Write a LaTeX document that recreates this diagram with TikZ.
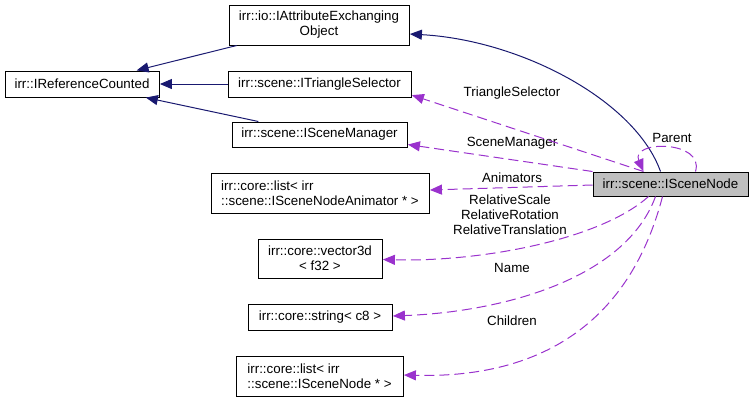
\documentclass[tikz,border=0pt]{standalone}
\usepackage{fontspec}
\setmainfont{Liberation Sans}
\usetikzlibrary{arrows.meta,calc}
\definecolor{inhcol}{HTML}{191970}
\definecolor{asscol}{HTML}{9A32CD}
\definecolor{hlfill}{HTML}{BFBFBF}
\begin{document}
\begin{tikzpicture}[x=0.75pt,y=-0.75pt,
  every node/.style={font=\fontsize{10}{11.25}\selectfont},
  box/.style={draw=black,line width=0.75pt,inner sep=0pt,align=center,fill=white},
  lbl/.style={inner sep=0pt,align=center},
  inh/.style={draw=inhcol,line width=0.75pt,-{Triangle[length=9pt,width=7.5pt]},shorten >=0.3pt},
  ass/.style={draw=asscol,line width=0.75pt,dash pattern=on 7.5pt off 3.75pt,-{Triangle[length=9pt,width=7.5pt]},shorten >=0.3pt}]
\useasboundingbox (0,0) rectangle (755,401);
% nodes
\node[box,minimum width=115.5pt,minimum height=19.5pt] (A) at (82,84) {irr::IReferenceCounted};
\node[box,minimum width=135pt,minimum height=30pt] (B) at (319,25) {irr::io::IAttributeExchanging\\Object};
\node[box,minimum width=137.25pt,minimum height=19.5pt] (C) at (319.5,84) {irr::scene::ITriangleSelector};
\node[box,minimum width=131.25pt,minimum height=18.75pt] (D) at (319.5,134.5) {irr::scene::ISceneManager};
\node[box,fill=hlfill,minimum width=116.25pt,minimum height=18pt] (E) at (670.5,184) {irr::scene::ISceneNode};
\node[box,align=left,minimum width=163.5pt,minimum height=30pt] (F) at (320,193) {irr::core::list\textless{} irr\\::scene::ISceneNodeAnimator * \textgreater};
\node[box,minimum width=93pt,minimum height=29.25pt] (G) at (320,258.5) {irr::core::vector3d\\\textless{} f32 \textgreater};
\node[box,minimum width=108pt,minimum height=19.5pt] (H) at (320,317) {irr::core::string\textless{} c8 \textgreater};
\node[box,align=left,minimum width=125.25pt,minimum height=30pt] (I) at (319.5,376) {irr::core::list\textless{} irr\\::scene::ISceneNode * \textgreater};
% labels
\node[lbl] (lTS) at (512,93) {TriangleSelector};
\node[lbl] (lSM) at (512,143) {SceneManager};
\node[lbl] (lPar) at (672,138) {Parent};
\node[lbl] (lAn) at (512,178) {Animators};
\node[lbl] (lRel) at (510,215) {RelativeScale\\RelativeRotation\\RelativeTranslation};
\node[lbl] (lName) at (512,268) {Name};
\node[lbl] (lCh) at (512,321) {Children};
% inheritance
\draw[inh] (C) -- (A);
\draw[inh] (B) -- (A);
\draw[inh] (D) -- (A);
\draw[inh] ($(E.north)+(-10,0)$) .. controls (635,100) and (520,40) .. ($(B.east)+(0,9)$);
% associations
\draw[ass] ($(E.north)+(-27,0)$) -- ($(C.east)+(0,11)$);
\draw[ass] (E.north west) -- ($(D.east)+(0,10)$);
\draw[ass] ($(E.north)+(25,0)$) .. controls (705,140) and (630,140) .. ($(E.north)+(-27,0)$);
\draw[ass] ($(E.west)+(0,1)$) -- ($(F.east)+(0,-3)$);
\draw[ass] ($(E.south)+(-22,0)$) .. controls (600,240) and (480,262) .. ($(G.east)+(0,1)$);
\draw[ass] ($(E.south)+(-15,0)$) .. controls (625,280) and (500,312) .. ($(H.east)+(0,-1)$);
\draw[ass] ($(E.south)+(-8,0)$) .. controls (625,340) and (520,378) .. ($(I.east)+(0,-1)$);
\end{tikzpicture}
\end{document}
